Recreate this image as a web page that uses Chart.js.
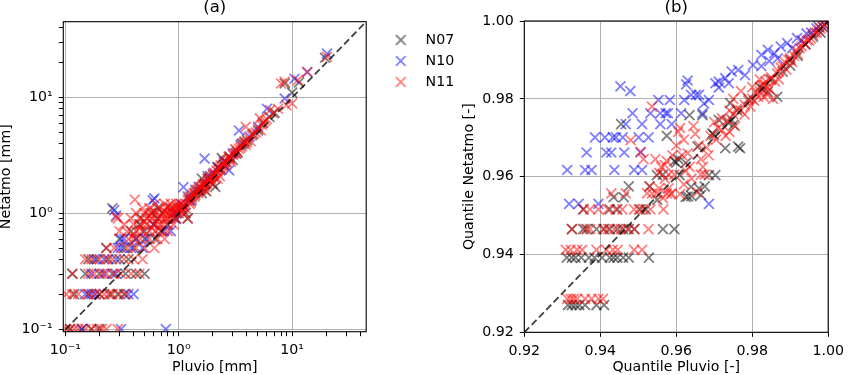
<!DOCTYPE html>
<html lang="en">
<head>
<meta charset="UTF-8" />
<title>Netatmo vs Pluvio</title>
<script src="https://cdn.jsdelivr.net/npm/chart.js"></script>
<style>
  html, body { margin: 0; padding: 0; background: #fff; }
  body { width: 850px; height: 375px; position: relative; overflow: hidden; }
  #chartA { position: absolute; left: 0; top: 0; }
  #chartB { position: absolute; left: 373px; top: 0; }
</style>
</head>
<body>
<canvas id="chartA" width="375" height="375"></canvas>
<canvas id="chartB" width="477" height="375"></canvas>
<script>
// stations and colours
const stationLabels = ["N07", "N10", "N11"];
const stationColors = ["rgba(0, 0, 0, 0.5)", "rgba(0, 0, 255, 0.5)", "rgba(255, 0, 0, 0.5)"];

// axis ticks
const logTickValues = [0.1, 0.2, 0.3, 0.4, 0.5, 0.6, 0.7, 0.8, 0.9, 1, 2, 3, 4, 5, 6, 7, 8, 9, 10, 20, 30, 40];
const logMajorTicks = [0.1, 1, 10];
const logMajorLabels = ["10⁻¹", "10⁰", "10¹"];
const quantileTicks = [0.92, 0.94, 0.96, 0.98, 1.0];

// (a) Pluvio [mm] vs Netatmo [mm]
const n07Left = [
  [0.11, 0.101], [0.14, 0.101], [0.17, 0.101], [0.2, 0.101],
  [0.12, 0.202], [0.16, 0.202], [0.2, 0.202], [0.25, 0.202], [0.29, 0.202], [0.33, 0.202],
  [0.115, 0.303], [0.15, 0.303], [0.2, 0.303], [0.26, 0.303], [0.34, 0.303], [0.42, 0.303], [0.5, 0.303],
  [0.16, 0.404], [0.19, 0.404], [0.24, 0.404], [0.3, 0.404], [0.36, 0.404],
  [0.23, 0.505], [0.33, 0.505], [0.4, 0.505],
  [0.3, 0.606], [0.42, 0.606], [0.5, 0.606], [0.62, 0.606],
  [0.38, 0.707], [0.5, 0.707], [0.7, 0.707],
  [0.45, 0.808], [0.6, 0.808], [0.8, 0.808],
  [0.47, 0.909], [0.65, 0.909], [0.92, 0.909], [1.2, 0.909],
  [0.58, 1.01], [0.72, 1.01], [0.95, 1.01], [1.15, 1.01],
  [0.26, 1.111], [0.65, 1.111], [0.85, 1.111], [1.05, 1.111],
  [1.25, 1.3], [1.3, 1.4], [1.4, 1.5], [1.5, 1.6], [1.6, 1.5], [1.6, 2.0], [1.7, 1.8], [1.75, 1.55],
  [1.8, 2.0], [1.9, 2.1], [2.0, 1.8], [2.1, 1.7], [2.2, 2.5], [2.3, 2.4], [2.5, 2.6], [2.6, 2.8],
  [2.4, 3.0], [2.8, 3.1], [3.0, 2.9], [3.2, 3.3], [3.3, 3.4], [3.6, 4.0], [3.8, 4.1], [4.0, 4.3],
  [4.5, 4.8], [5.0, 5.2], [5.5, 6.0], [6.3, 6.8], [7.0, 7.4], [8.6, 13.2], [10.0, 11.0], [11.5, 13.5],
  [19.5, 22.0]
];
const n10Left = [
  [0.14, 0.101], [0.31, 0.101], [0.77, 0.101],
  [0.15, 0.202], [0.17, 0.202], [0.185, 0.202], [0.36, 0.202], [0.4, 0.202],
  [0.17, 0.303], [0.22, 0.303], [0.28, 0.303],
  [0.18, 0.404], [0.22, 0.404], [0.28, 0.404],
  [0.29, 0.505], [0.31, 0.505], [0.38, 0.505], [0.48, 0.505],
  [0.31, 0.606], [0.33, 0.606], [0.42, 0.606], [0.52, 0.606],
  [0.74, 0.707], [0.85, 0.707], [0.6, 0.808],
  [0.28, 0.96], [0.27, 1.07], [0.59, 1.3], [0.61, 1.35], [0.9, 1.0], [0.95, 0.9], [1.05, 1.2],
  [1.1, 1.18], [1.1, 1.69], [1.2, 1.4], [1.3, 1.3], [1.4, 1.6], [1.5, 1.7], [1.69, 2.98], [1.8, 2.1],
  [2.0, 2.2], [2.2, 2.5], [2.5, 2.8], [2.78, 2.36], [3.0, 3.3], [3.4, 5.2], [3.5, 3.9], [4.2, 4.6],
  [5.0, 5.6], [6.0, 8.0], [8.6, 9.8], [10.5, 14.5], [13.6, 16.6], [20.3, 23.9]
];
const n11Left = [
  [0.102, 0.101], [0.11, 0.101], [0.12, 0.101], [0.13, 0.101], [0.15, 0.101], [0.17, 0.101],
  [0.19, 0.101], [0.21, 0.101], [0.23, 0.101], [0.29, 0.101],
  [0.102, 0.202], [0.115, 0.202], [0.13, 0.202], [0.16, 0.202], [0.18, 0.202], [0.2, 0.202],
  [0.22, 0.202], [0.24, 0.202], [0.26, 0.202], [0.3, 0.202], [0.34, 0.202],
  [0.116, 0.303], [0.16, 0.303], [0.18, 0.303], [0.21, 0.303], [0.23, 0.303], [0.27, 0.303],
  [0.31, 0.303], [0.38, 0.303], [0.45, 0.303],
  [0.15, 0.404], [0.17, 0.404], [0.2, 0.404], [0.23, 0.404], [0.26, 0.404], [0.33, 0.404],
  [0.4, 0.404], [0.48, 0.404],
  [0.23, 0.505], [0.27, 0.505], [0.35, 0.505], [0.42, 0.505], [0.5, 0.505], [0.61, 0.505],
  [0.36, 0.606], [0.4, 0.606], [0.46, 0.606], [0.55, 0.606], [0.65, 0.606], [0.75, 0.606],
  [0.3, 0.707], [0.42, 0.707], [0.48, 0.707], [0.55, 0.707], [0.62, 0.707], [0.7, 0.707], [0.8, 0.707],
  [0.33, 0.808], [0.4, 0.808], [0.46, 0.808], [0.52, 0.808], [0.6, 0.808], [0.68, 0.808],
  [0.78, 0.808], [0.9, 0.808],
  [0.29, 0.909], [0.38, 0.909], [0.45, 0.909], [0.52, 0.909], [0.58, 0.909], [0.66, 0.909],
  [0.75, 0.909], [0.85, 0.909], [0.95, 0.909], [1.2, 0.909],
  [0.42, 1.01], [0.5, 1.01], [0.56, 1.01], [0.63, 1.01], [0.72, 1.01], [0.8, 1.01], [0.9, 1.01],
  [1.0, 1.01], [1.1, 1.01],
  [0.48, 1.111], [0.55, 1.111], [0.68, 1.111], [0.78, 1.111], [0.88, 1.111], [0.98, 1.111],
  [1.08, 1.111], [1.15, 1.111],
  [0.62, 1.212], [0.75, 1.212], [0.85, 1.212], [0.95, 1.212], [1.05, 1.212], [1.15, 1.212], [1.25, 1.212],
  [0.41, 1.32], [0.28, 0.93],
  [0.35, 0.7], [0.4, 0.65], [0.45, 0.75], [0.5, 0.85], [0.55, 0.95], [0.58, 0.75], [0.6, 1.05],
  [0.65, 0.85], [0.68, 0.75], [0.7, 0.95], [0.75, 1.05], [0.78, 0.9], [0.8, 1.15], [0.85, 0.95],
  [0.88, 1.0], [0.9, 1.1], [0.95, 1.15], [1.0, 1.2], [1.05, 1.05], [1.1, 1.15],
  [1.2, 1.3], [1.22, 1.35], [1.25, 1.4], [1.28, 1.25], [1.3, 1.35], [1.32, 1.45], [1.35, 1.5],
  [1.38, 1.4], [1.4, 1.45], [1.42, 1.55], [1.45, 1.6], [1.48, 1.5], [1.5, 1.55], [1.52, 1.65],
  [1.55, 1.7], [1.58, 1.6], [1.6, 1.65], [1.62, 1.75], [1.65, 1.8], [1.68, 1.7], [1.7, 1.75],
  [1.7, 1.6], [1.72, 1.85], [1.78, 1.8], [1.8, 1.9], [1.82, 1.95], [1.85, 2.0], [1.88, 2.05],
  [1.9, 1.85], [1.95, 1.95], [2.0, 2.1], [2.02, 2.15], [2.05, 2.25], [2.08, 2.2], [2.1, 2.0],
  [2.15, 2.35], [2.2, 2.3], [2.2, 2.0], [2.25, 2.4], [2.3, 2.5], [2.3, 2.1], [2.35, 2.6], [2.4, 2.4],
  [2.45, 2.55], [2.5, 2.7], [2.55, 2.8], [2.6, 2.6], [2.65, 2.75], [2.7, 2.9], [2.75, 3.1], [2.8, 3.0],
  [2.85, 2.95], [2.9, 2.8], [3.0, 3.2], [3.1, 3.3], [3.15, 3.6], [3.2, 3.5], [3.3, 3.3], [3.4, 3.6],
  [3.5, 3.7], [3.6, 3.8], [3.7, 4.0], [3.8, 4.2], [3.9, 3.9], [3.9, 5.6], [4.0, 4.1], [4.1, 4.5],
  [4.3, 4.2], [4.4, 4.7], [4.6, 4.9], [4.8, 5.0], [5.0, 5.4], [5.2, 6.6], [5.3, 5.2], [5.4, 5.8],
  [5.6, 6.1], [5.8, 6.3], [6.0, 6.5], [6.4, 7.8], [6.8, 7.3], [7.5, 8.0], [8.0, 13.2], [8.6, 13.7],
  [8.9, 8.6], [10.0, 8.9], [11.2, 14.1], [13.6, 16.6], [20.3, 22.4]
];

// (b) quantile Pluvio vs quantile Netatmo
const n07Right = [
  [0.9315, 0.927], [0.9325, 0.927], [0.9335, 0.927], [0.9345, 0.927], [0.936, 0.927], [0.939, 0.927], [0.941, 0.927],
  [0.9312, 0.9392], [0.9325, 0.9392], [0.9335, 0.9392], [0.935, 0.9392], [0.937, 0.9392], [0.9385, 0.9392],
  [0.9405, 0.9392], [0.9425, 0.9392], [0.9435, 0.9392], [0.9445, 0.9392], [0.946, 0.9392], [0.9475, 0.9392],
  [0.9528, 0.9392],
  [0.9325, 0.9465], [0.9355, 0.9465], [0.9365, 0.9465], [0.939, 0.9465], [0.941, 0.9465], [0.9425, 0.9465],
  [0.9445, 0.9465], [0.946, 0.9465], [0.9475, 0.9465], [0.949, 0.9465], [0.9565, 0.9465], [0.9595, 0.9465],
  [0.9355, 0.9516], [0.9425, 0.9516], [0.9445, 0.9516], [0.9505, 0.9516], [0.952, 0.9516],
  [0.9435, 0.9547], [0.9462, 0.9547], [0.9475, 0.9575], [0.953, 0.9575], [0.955, 0.954], [0.9625, 0.9548],
  [0.964, 0.955], [0.9675, 0.9575], [0.9455, 0.9735], [0.9575, 0.9705], [0.96, 0.9636], [0.9609, 0.9604],
  [0.9549, 0.9604], [0.9565, 0.9605], [0.9595, 0.964], [0.9605, 0.9645], [0.9625, 0.9635], [0.9631, 0.9549],
  [0.9639, 0.9574], [0.966, 0.957], [0.9665, 0.9553], [0.9656, 0.9677], [0.9686, 0.9604], [0.9703, 0.9604],
  [0.9699, 0.9707], [0.9695, 0.9711], [0.9712, 0.9746], [0.9729, 0.9673], [0.9751, 0.9733], [0.9763, 0.9677],
  [0.9768, 0.9673], [0.9635, 0.9758], [0.9669, 0.9758], [0.9742, 0.9789], [0.9746, 0.9746], [0.9735, 0.974],
  [0.976, 0.977], [0.979, 0.98], [0.9828, 0.9825], [0.9841, 0.9818], [0.9866, 0.9805], [0.982, 0.983],
  [0.985, 0.985], [0.988, 0.987], [0.99, 0.9885], [0.99, 0.99], [0.992, 0.991], [0.994, 0.994],
  [0.996, 0.996], [0.9975, 0.9985], [0.998, 0.997], [0.999, 0.999]
];
const n10Right = [
  [0.9453, 0.9832], [0.9479, 0.982], [0.963, 0.9847], [0.9626, 0.9837], [0.9639, 0.981], [0.9652, 0.981],
  [0.966, 0.981], [0.9553, 0.9797], [0.9583, 0.9797], [0.9621, 0.9797], [0.9686, 0.9797], [0.9673, 0.9788],
  [0.9485, 0.9763], [0.9532, 0.9763], [0.9558, 0.9763], [0.9572, 0.9763], [0.9578, 0.9763], [0.9613, 0.9763],
  [0.9669, 0.9763], [0.9467, 0.9735], [0.951, 0.9735], [0.9558, 0.9735], [0.9588, 0.9735],
  [0.9386, 0.9701], [0.9412, 0.9701], [0.9433, 0.9701], [0.9441, 0.9701], [0.9459, 0.9701], [0.9501, 0.9701],
  [0.9527, 0.9701], [0.9364, 0.9662], [0.9416, 0.9662], [0.9429, 0.9662], [0.9463, 0.9662], [0.9506, 0.9662],
  [0.9313, 0.9617], [0.936, 0.9617], [0.9377, 0.9617], [0.9437, 0.9617], [0.9489, 0.9617], [0.951, 0.9617],
  [0.9318, 0.953], [0.9343, 0.953], [0.9395, 0.953], [0.9686, 0.953],
  [0.9703, 0.984], [0.9712, 0.9844], [0.9712, 0.9829], [0.9729, 0.9853], [0.9738, 0.984], [0.9746, 0.987],
  [0.9763, 0.9874], [0.9781, 0.9861], [0.9802, 0.9887], [0.9824, 0.9884], [0.9824, 0.9913], [0.9841, 0.9926],
  [0.9845, 0.9897], [0.9858, 0.9917], [0.9867, 0.9904], [0.9875, 0.9934], [0.9892, 0.9943], [0.9905, 0.993],
  [0.9918, 0.9956], [0.993, 0.995], [0.9943, 0.9968], [0.9955, 0.997], [0.9969, 0.9981], [0.9986, 0.9985],
  [0.9995, 0.9995]
];
const n11Right = [
  [0.9313, 0.9286], [0.9322, 0.9286], [0.933, 0.9286], [0.9339, 0.9286], [0.936, 0.9286], [0.9377, 0.9286],
  [0.9395, 0.9286], [0.9407, 0.9286],
  [0.9309, 0.9412], [0.9322, 0.9412], [0.9339, 0.9412], [0.9352, 0.9412], [0.939, 0.9412], [0.9416, 0.9412],
  [0.9433, 0.9412], [0.9446, 0.9412], [0.9489, 0.9412], [0.951, 0.9412],
  [0.9326, 0.9465], [0.936, 0.9465], [0.9373, 0.9465], [0.9407, 0.9465], [0.942, 0.9465], [0.9437, 0.9465],
  [0.9454, 0.9465], [0.9471, 0.9465], [0.9489, 0.9465], [0.9527, 0.9465],
  [0.9356, 0.9516], [0.9373, 0.9516], [0.9395, 0.9516], [0.942, 0.9516], [0.9441, 0.9516], [0.9458, 0.9516],
  [0.9489, 0.9516], [0.9501, 0.9516], [0.9514, 0.9516], [0.9532, 0.9516], [0.9566, 0.9516],
  [0.9429, 0.9557], [0.9467, 0.9557], [0.9523, 0.9557], [0.9536, 0.9557], [0.9549, 0.9557], [0.9575, 0.9557],
  [0.9588, 0.9557], [0.9536, 0.978], [0.948, 0.9694], [0.9506, 0.9664], [0.9514, 0.9645],
  [0.9545, 0.9645], [0.9555, 0.961], [0.9555, 0.957], [0.956, 0.9625], [0.957, 0.9595], [0.9575, 0.964],
  [0.958, 0.957], [0.958, 0.9605], [0.9585, 0.9555], [0.959, 0.9655], [0.96, 0.968], [0.9605, 0.9715],
  [0.961, 0.9725], [0.9615, 0.9655], [0.962, 0.9695], [0.9625, 0.9615], [0.963, 0.966], [0.9635, 0.9625],
  [0.964, 0.9595], [0.9645, 0.973], [0.965, 0.971], [0.966, 0.968], [0.9665, 0.9645], [0.9665, 0.9605],
  [0.967, 0.9625], [0.9675, 0.9605], [0.968, 0.9675], [0.9685, 0.9655], [0.969, 0.9705], [0.97, 0.974],
  [0.9705, 0.9695], [0.971, 0.9725], [0.972, 0.975], [0.972, 0.972], [0.973, 0.9705], [0.9735, 0.9745],
  [0.974, 0.9715], [0.974, 0.977], [0.975, 0.976], [0.9755, 0.973], [0.976, 0.9775], [0.977, 0.977],
  [0.978, 0.9785], [0.978, 0.976], [0.979, 0.9795], [0.9795, 0.978], [0.98, 0.98], [0.9805, 0.9795],
  [0.981, 0.9815], [0.9815, 0.9805], [0.982, 0.982], [0.9825, 0.9835], [0.983, 0.9835], [0.983, 0.9805],
  [0.9835, 0.9845], [0.984, 0.983], [0.9845, 0.985], [0.9845, 0.9825], [0.985, 0.9855], [0.986, 0.9845],
  [0.9865, 0.9865], [0.987, 0.987], [0.987, 0.985], [0.9875, 0.988], [0.988, 0.9885], [0.9885, 0.9895],
  [0.989, 0.9875], [0.9895, 0.99], [0.99, 0.9905], [0.9905, 0.9895], [0.991, 0.991], [0.9915, 0.9925],
  [0.992, 0.9915], [0.9925, 0.993], [0.993, 0.9935], [0.9935, 0.9945], [0.994, 0.994], [0.9945, 0.995],
  [0.995, 0.995], [0.9955, 0.9955], [0.996, 0.9965], [0.9965, 0.997], [0.997, 0.997], [0.9975, 0.9975],
  [0.998, 0.998], [0.9985, 0.9985], [0.999, 0.999], [0.9995, 0.9995],
  [0.9565, 0.9545], [0.962, 0.958], [0.9655, 0.956], [0.961, 0.9555], [0.953, 0.9575], [0.957, 0.963],
  [0.9595, 0.9605], [0.975, 0.98], [0.977, 0.982], [0.98, 0.983], [0.982, 0.985], [0.984, 0.981],
  [0.9855, 0.98]
];

// 1:1 reference lines
const diagLeft = [[0.1, 0.1], [45, 45]];
const diagRight = [[0.92, 0.92], [1.0, 1.0]];

Chart.defaults.font.family = "'DejaVu Sans', sans-serif";
Chart.defaults.font.size = 14.2;
Chart.defaults.color = "#000";

function toPoints(pairs) {
  return pairs.map(([x, y]) => ({ x, y }));
}

function stationDatasets(series) {
  return series.map((pairs, i) => ({
    label: stationLabels[i],
    data: toPoints(pairs),
    pointStyle: "crossRot",
    pointRadius: 7,
    pointHoverRadius: 7,
    borderWidth: 1.8,
    borderColor: stationColors[i],
    backgroundColor: stationColors[i],
    order: 3 - i,
  }));
}

function diagDataset(pairs) {
  return {
    label: "1:1",
    data: toPoints(pairs),
    showLine: true,
    pointRadius: 0,
    borderColor: "rgba(0, 0, 0, 0.75)",
    borderWidth: 1.8,
    borderDash: [7, 3.5],
    order: -1,
  };
}

// small x glyph for the legend, so text can sit further from it
function crossMark(color) {
  const c = document.createElement("canvas");
  c.width = 12;
  c.height = 12;
  const g = c.getContext("2d");
  g.strokeStyle = color;
  g.lineWidth = 1.8;
  g.beginPath();
  g.moveTo(1.2, 1.2);
  g.lineTo(10.8, 10.8);
  g.moveTo(10.8, 1.2);
  g.lineTo(1.2, 10.8);
  g.stroke();
  return c;
}

// full box around the plot area like matplotlib spines
const framePlugin = {
  id: "frame",
  afterDatasetsDraw(chart) {
    const { ctx, chartArea: a } = chart;
    ctx.save();
    ctx.strokeStyle = "#000";
    ctx.lineWidth = 1.1;
    ctx.strokeRect(a.left, a.top, a.right - a.left, a.bottom - a.top);
    ctx.restore();
  },
};

function logAxis(titleText, titlePad, fit) {
  return {
    type: "logarithmic",
    min: 0.096,
    max: 45,
    afterBuildTicks: (axis) => {
      axis.ticks = logTickValues.map((v) => ({ value: v }));
    },
    afterFit: fit,
    ticks: {
      autoSkip: false,
      maxRotation: 0,
      minRotation: 0,
      padding: 6,
      callback: (v) => {
        const k = logMajorTicks.indexOf(v);
        return k >= 0 ? logMajorLabels[k] : "";
      },
    },
    grid: {
      color: (c) => (c.tick && logMajorTicks.includes(c.tick.value) ? "#b0b0b0" : "rgba(0,0,0,0)"),
      tickColor: "#000",
      tickLength: 4.5,
    },
    border: { display: false },
    title: { display: true, text: titleText, padding: titlePad },
  };
}

function quantileAxis(titleText, titlePad, fit) {
  return {
    type: "linear",
    min: 0.92,
    max: 1.0,
    afterBuildTicks: (axis) => {
      axis.ticks = quantileTicks.map((v) => ({ value: v }));
    },
    afterFit: fit,
    ticks: {
      autoSkip: false,
      maxRotation: 0,
      minRotation: 0,
      padding: 6,
      callback: (v) => Number(v).toFixed(2),
    },
    grid: { color: "#b0b0b0", tickColor: "#000", tickLength: 4.5 },
    border: { display: false },
    title: { display: true, text: titleText, padding: titlePad },
  };
}

// (a)
new Chart(document.getElementById("chartA"), {
  type: "scatter",
  data: {
    datasets: [...stationDatasets([n07Left, n10Left, n11Left]), diagDataset(diagLeft)],
  },
  options: {
    responsive: false,
    animation: false,
    devicePixelRatio: 1,
    layout: { padding: { left: 0, right: 1.7, top: 0, bottom: 0 } },
    plugins: {
      legend: { display: false },
      tooltip: { enabled: false },
      title: {
        display: true,
        text: "(a)",
        fullSize: false,
        font: { size: 16.5, weight: "normal" },
        padding: { top: -1.9, bottom: 3.8 },
      },
    },
    scales: {
      x: logAxis("Pluvio [mm]", { top: 0, bottom: -0.5 }, (a) => { a.height = 43.3; }),
      y: logAxis("Netatmo [mm]", { top: -1.8, bottom: 0 }, (a) => { a.width = 63.3; }),
    },
  },
  plugins: [framePlugin],
});

// (b)
new Chart(document.getElementById("chartB"), {
  type: "scatter",
  data: {
    datasets: [...stationDatasets([n07Right, n10Right, n11Right]), diagDataset(diagRight)],
  },
  options: {
    responsive: false,
    animation: false,
    devicePixelRatio: 1,
    layout: { padding: { left: 3.1, right: 14.7, top: 0, bottom: 0 } },
    plugins: {
      tooltip: { enabled: false },
      title: {
        display: true,
        text: "(b)",
        fullSize: false,
        font: { size: 16.5, weight: "normal" },
        padding: { top: -1.9, bottom: 3.1 },
      },
      legend: {
        position: "left",
        align: "start",
        fullSize: false,
        maxWidth: 82,
        title: { display: true, text: "", font: { size: 1 }, padding: { top: 0, bottom: 3.9 } },
        labels: {
          usePointStyle: true,
          pointStyleWidth: 35.6,
          padding: 6.8,
          font: { size: 14.2 },
          filter: (item) => item.datasetIndex < 3,
          sort: (a, b) => a.datasetIndex - b.datasetIndex,
          generateLabels: (chart) =>
            Chart.defaults.plugins.legend.labels.generateLabels(chart).map((item) => ({
              ...item,
              pointStyle: item.datasetIndex < 3 ? crossMark(stationColors[item.datasetIndex]) : item.pointStyle,
            })),
        },
      },
    },
    scales: {
      x: quantileAxis("Quantile Pluvio [-]", { top: 0, bottom: -0.5 }, (a) => { a.height = 42.7; }),
      y: quantileAxis("Quantile Netatmo [-]", { top: 2.4, bottom: 0 }, (a) => { a.width = 66.2; }),
    },
  },
  plugins: [framePlugin],
});
</script>
</body>
</html>
